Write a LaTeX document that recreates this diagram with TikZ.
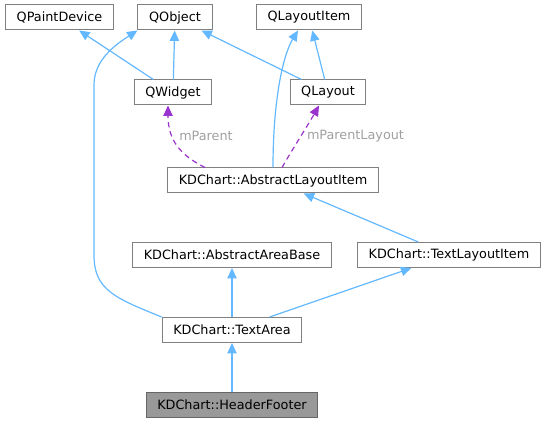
\documentclass[tikz,border=0pt]{standalone}
\usepackage{fontspec}
\setmainfont{DejaVu Sans}
\usepackage{tikz}
\usetikzlibrary{calc, positioning, arrows.meta}
\definecolor{Edgecolor}{RGB}{99,184,255}
\definecolor{Refcolor}{RGB}{154,50,205}
\definecolor{Boxcolor}{RGB}{128,128,128}
\definecolor{Labcolor}{RGB}{160,160,160}

\begin{document}
\begin{tikzpicture}[
  x=0.75pt, y=-0.75pt,
  font=\fontsize{9.6}{11.5}\selectfont,
  cls/.style={draw=Boxcolor, fill=white, minimum height=18.75pt,
              inner xsep=8.4pt, inner ysep=0pt, line width=0.75pt},
  mainbox/.style={cls, fill=black!40, draw=black!60},
  inh/.style={-{Triangle[length=7.8pt, width=7pt]}, draw=Edgecolor,
              line width=0.9pt},
  usg/.style={-{Triangle[length=7.8pt, width=7pt]}, draw=Refcolor,
              line width=0.9pt, dash pattern=on 4pt off 3pt},
  lab/.style={text=Labcolor}
]
\useasboundingbox (0,0) rectangle (547,423);

\node[cls] (qpaintdevice) at ( 59.5, 17.5) {QPaintDevice};
\node[cls] (qobject)      at (175.0, 17.5) {QObject};
\node[cls] (qlayoutitem)  at (309.0, 17.5) {QLayoutItem};
\node[cls] (qwidget)      at (173.0, 92.5) {QWidget};
\node[cls] (qlayout)      at (328.0, 92.5) {QLayout};
\node[cls] (abslayoutitem)  at (273.0,180.5) {KDChart::AbstractLayoutItem};
\node[cls] (absareabase)    at (232.0,255.0) {KDChart::AbstractAreaBase};
\node[cls] (textlayoutitem) at (449.0,255.0) {KDChart::TextLayoutItem};
\node[cls] (textarea)       at (232.0,330.0) {KDChart::TextArea};
\node[mainbox] (headerfooter) at (232.0,405.0) {KDChart::HeaderFooter};

\draw[inh] (qwidget) -- (qpaintdevice);
\draw[inh] (qwidget) -- (qobject);
\draw[inh] (qlayout) -- (qobject);
\draw[inh] (qlayout) -- (qlayoutitem);
\draw[inh] (abslayoutitem.north) .. controls (273,100) and (283,55)
  .. ($(qlayoutitem.south)+(-11,0)$);
\draw[inh] (textarea.north west) .. controls (115,298) and (94,290) .. (94,255)
  -- (94,85) .. controls (94,60) and (115,45) .. (qobject.south west);

\draw[usg] ($(abslayoutitem.north)+(-68,0)$) .. controls (180,155) and (168,140)
  .. ($(qwidget.south)+(-5,0)$);
\node[lab] (lblparent) at (206,136) {mParent};
\draw[usg] ($(abslayoutitem.north)+(9,0)$) .. controls (295,145) and (308,125)
  .. ($(qlayout.south)+(-9,0)$);
\node[lab] (lblparentlayout) at (355.5,136) {mParentLayout};

\draw[inh] (textlayoutitem) -- (abslayoutitem);
\draw[inh] (textarea) -- (textlayoutitem);
\draw[inh] (textarea) -- (absareabase);
\draw[inh] (headerfooter) -- (textarea);
\end{tikzpicture}
\end{document}
